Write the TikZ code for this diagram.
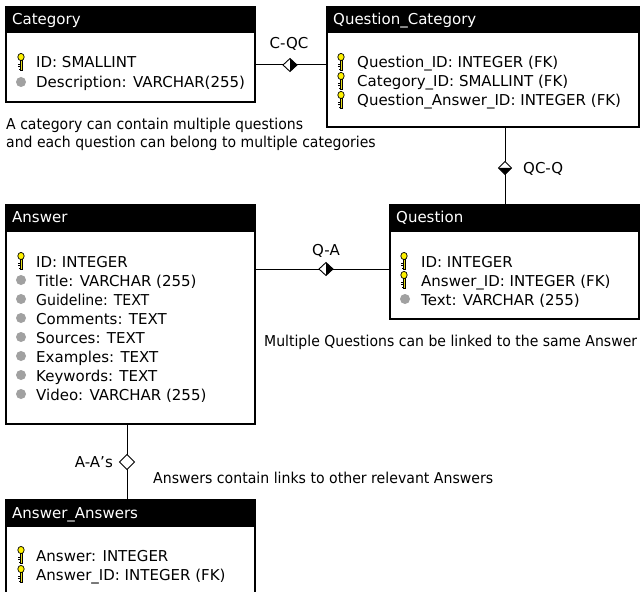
\documentclass[tikz,border=0pt]{standalone}
\usepackage{fontspec}
\setmainfont{DejaVu Sans}
\newcommand{\narrow}[2]{\scalebox{#1}[1]{#2}}
\begin{document}
\begin{tikzpicture}[x=1bp,y=-1bp,
  tbl/.style={draw=black, line width=1.2bp, fill=white, anchor=north west, inner sep=0pt, outer sep=0pt},
  txt/.style={anchor=base west, font=\fontsize{15bp}{18bp}\selectfont, inner sep=0pt},
  hdr/.style={txt, text=white},
  lbl/.style={anchor=base, font=\fontsize{15bp}{18bp}\selectfont, inner sep=0pt},
  conn/.style={line width=1bp},
  keyicon/.pic={
    \filldraw[fill=yellow!90!black, draw=black, line width=0.6bp] (-1.1,-2.5) rectangle (1.1,8);
    \draw[line width=0.9bp] (-1.1,2.5) -- (-2.6,2.5) (-1.1,4.8) -- (-2.6,4.8) (-1.1,7) -- (-2.2,7);
    \filldraw[fill=yellow, draw=black, line width=0.7bp] (0,-5) ellipse (3.2 and 3.6);
  },
  dot/.pic={\fill[black!37] (0,0) circle (5);},
  hdiaH/.pic={
    \fill[white] (-7,0) -- (0,-6.5) -- (0,6.5) -- cycle;
    \fill[black] (7,0) -- (0,-6.5) -- (0,6.5) -- cycle;
    \draw[line width=0.9bp] (-7,0) -- (0,-6.5) -- (7,0) -- (0,6.5) -- cycle;
  },
  hdiaV/.pic={
    \fill[white] (0,-6.5) -- (-6.5,0) -- (6.5,0) -- cycle;
    \fill[black] (0,6.5) -- (-6.5,0) -- (6.5,0) -- cycle;
    \draw[line width=0.9bp] (0,-6.5) -- (-6.5,0) -- (0,6.5) -- (6.5,0) -- cycle;
  },
  odia/.pic={
    \filldraw[fill=white, draw=black, line width=0.9bp] (0,-7.5) -- (-7.5,0) -- (0,7.5) -- (7.5,0) -- cycle;
  }
]
\useasboundingbox[fill=white] (0,0) rectangle (640,592);

% ---------- Category ----------
\node[tbl, minimum width=249bp, minimum height=95bp] (cat) at (6,7) {};
\fill (cat.north west) rectangle (cat.east |- 0,33);
\node[hdr] (catH) at (12,25) {Category};
\pic at (21,62) {keyicon};
\node[txt] (cat1) at (36,68) {ID: SMALLINT};
\pic at (21,82) {dot};
\node[txt] (cat2) at (36,88) {Description: VARCHAR(255)};

% ---------- Question_Category ----------
\node[tbl, minimum width=312bp, minimum height=120bp] (qc) at (327,7) {};
\fill (qc.north west) rectangle (qc.east |- 0,33);
\node[hdr] (qcH) at (333,25) {Question\_Category};
\pic at (341,62) {keyicon};
\node[txt] (qc1) at (357,68) {Question\_ID: INTEGER (FK)};
\pic at (341,81) {keyicon};
\node[txt] (qc2) at (357,87) {Category\_ID: SMALLINT (FK)};
\pic at (341,100) {keyicon};
\node[txt] (qc3) at (357,106) {Question\_Answer\_ID: INTEGER (FK)};

% ---------- Answer ----------
\node[tbl, minimum width=249bp, minimum height=219bp] (ans) at (6,205) {};
\fill (ans.north west) rectangle (ans.east |- 0,232);
\node[hdr] (ansH) at (12,222.7) {Answer};
\pic at (21,261) {keyicon};
\node[txt] (a1) at (36,267) {ID: INTEGER};
\foreach \yy/\t [count=\i from 2] in {286/{Title: VARCHAR (255)},305/{\narrow{0.94}{Guideline: TEXT}},324/{Comments: TEXT},343/{Sources: TEXT},362/{Examples: TEXT},381/{Keywords: TEXT},400/{Video: VARCHAR (255)}}{
  \pic at (21,\yy-6) {dot};
  \node[txt] (a\i) at (36,\yy) {\t};
}

% ---------- Question ----------
\node[tbl, minimum width=249bp, minimum height=114bp] (q) at (390,205) {};
\fill (q.north west) rectangle (q.east |- 0,232);
\node[hdr] (qH) at (396,222.7) {Question};
\pic at (404,261) {keyicon};
\node[txt] (q1) at (421,267) {ID: INTEGER};
\pic at (404,280) {keyicon};
\node[txt] (q2) at (421,286) {Answer\_ID: INTEGER (FK)};
\pic at (405,299) {dot};
\node[txt] (q3) at (421,305) {Text: VARCHAR (255)};

% ---------- Answer_Answers ----------
\node[tbl, minimum width=249bp, minimum height=100bp] (aa) at (6,500) {};
\fill (aa.north west) rectangle (aa.east |- 0,527);
\node[hdr] (aaH) at (12,518.3) {Answer\_Answers};
\pic at (21,555) {keyicon};
\node[txt] (aa1) at (36,561) {Answer: INTEGER};
\pic at (21,574) {keyicon};
\node[txt] (aa2) at (36,580) {Answer\_ID: INTEGER (FK)};

% ---------- connectors ----------
\coordinate (cqc) at (290,65);
\draw[conn] (cat.east |- cqc) -- (qc.west |- cqc);
\pic at (cqc) {hdiaH};
\node[lbl] (cqcL) at (289,48.3) {C-QC};

\coordinate (qcq) at (505,168);
\draw[conn] (qc.south -| qcq) -- (q.north -| qcq);
\pic at (qcq) {hdiaV};
\node[txt] (qcqL) at (523,173.3) {QC-Q};

\coordinate (qa) at (326,269);
\draw[conn] (ans.east |- qa) -- (q.west |- qa);
\pic at (qa) {hdiaH};
\node[lbl] (qaL) at (326,255) {Q-A};

\coordinate (aaa) at (127,462);
\draw[conn] (ans.south -| aaa) -- (aa.north -| aaa);
\pic at (aaa) {odia};
\node[anchor=base east, font=\fontsize{15bp}{18bp}\selectfont, inner sep=0pt] (aaaL) at (113,467.7) {A-A{\char"0027}s};

% ---------- notes ----------
\node[txt] (n1) at (6,130) {\narrow{0.937}{A category can contain multiple questions}};
\node[txt] (n2) at (6,148) {\narrow{0.934}{and each question can belong to multiple categories}};
\node[txt] (n3) at (264,346.7) {\narrow{0.935}{Multiple Questions can be linked to the same Answer}};
\node[txt] (n4) at (153,483.3) {\narrow{0.94}{Answers contain links to other relevant Answers}};
\end{tikzpicture}
\end{document}
